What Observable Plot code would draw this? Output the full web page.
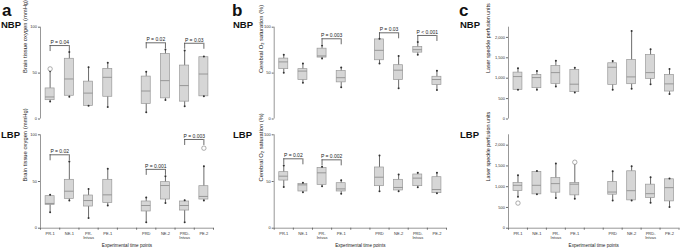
<!DOCTYPE html>
<html><head><meta charset="utf-8">
<script src="https://cdn.jsdelivr.net/npm/d3@7"></script>
<script src="https://cdn.jsdelivr.net/npm/@observablehq/plot@0.6"></script>
<style>
body{margin:0;background:#fff;}
#fig{position:relative;width:685px;height:250px;overflow:hidden;font-family:"Liberation Sans",Arial,sans-serif;}
#fig svg{position:absolute;}
</style></head><body><div id="fig"></div>
<script>
// categories and tick labels
const categories = ["PR-1","NE-1","PR-Intvas","PE-1","PRD","NE-2","PRD-Intvas","PE-2"];
const tickLabels = ["PR-1","NE-1","PR-\nIntvas","PE-1","PRD","NE-2","PRD-\nIntvas","PE-2"];
const xTitle = "Experimental time points";
const panelLetters = ["a","b","c"];
const rowLabels = ["NBP","LBP"];

// [min, q1, median, q3, max] per category
const aNBP = [[19,20.5,24,33.3,52],[24.2,25.3,43.6,65.6,72.9],[14.3,14.3,28.2,40.7,56.4],[13.2,24.2,45.4,54.6,61.2],
              [7.3,16.4,30.5,46.2,51.6],[20.7,22.5,41.8,70.9,75.6],[13.8,18.9,36.4,58.2,74.5],[24.7,24.7,49,67.3,68]];
const aLBP = [[17,25,26.5,34.3,35.7],[29.6,31.4,39.6,51.8,71.4],[11,23.2,29.6,35,42],[24.3,27,35.7,51.8,63.6],
              [6.4,17.9,24.3,28.6,33],[27,30.7,45.7,49.3,55.7],[6.4,18.9,24.3,28.6,30],[29.6,30.7,34,45,66.4]];
const bNBP = [[50.4,54.3,62.2,65.8,70],[39.6,42.4,52.2,54.3,60.4],[65.8,66.9,68.7,76.6,80.2],[34.5,39.9,45,52.2,56],
              [60.4,64,74.8,86.7,87.4],[33.5,42.4,53.2,58.6,68.7],[70,72.3,75.5,78.4,83.8],[31.7,37,43,46,52.5]];
const bLBP = [[44,51,55.7,60,67],[38.6,39.3,46.4,47.5,48.6],[45,46.4,59.3,64.6,65.7],[36.8,39.3,42.1,48.2,51.4],
              [39.6,45,54.6,65,77.9],[39.6,40.4,43.6,51.8,57.5],[43.9,45,53.6,57.5,59.3],[37.5,37.5,41.4,54.6,59.3]];
const cNBP = [[715,715,1040,1137,1244],[715,756,1015,1080,1178],[796,861,1137,1300,1430],[650,658,853,1202,1259],
              [715,837,1268,1366,1422],[739,853,1032,1446,2154],[853,983,1137,1568,1707],[610,673,861,1080,1227]];
const cLBP = [[760,895,1033,1088,1274],[815,815,1033,1354,1375],[726,856,1074,1209,1557],[711,791,1060,1088,1560],
              [670,807,871,1113,1371],[670,670,904,1371,1492],[614,726,832,1049,1226],[508,646,977,1178,1195]];

// outliers [category, value]
const aNBPout = [["PR-1",54.6]];
const aLBPout = [["PE-2",85.7]];
const bNBPout = [];
const bLBPout = [];
const cNBPout = [];
const cLBPout = [["PR-1",605],["PE-1",1590]];

// significance brackets [from, to, height, label]
const aNBPp = [["PR-1","NE-1",80,"P = 0.04"],["PRD","NE-2",83,"P = 0.02"],["PRD-Intvas","PE-2",82.5,"P = 0.03"]];
const aLBPp = [["PR-1","NE-1",78.6,"P = 0.02"],["PRD","NE-2",63,"P = 0.001"],["PRD-Intvas","PE-2",95,"P = 0.003"]];
const bNBPp = [["PR-Intvas","PE-1",87.4,"P = 0.003"],["PRD","NE-2",93.9,"P = 0.03"],["PRD-Intvas","PE-2",91,"P < 0.001"]];
const bLBPp = [["PR-1","NE-1",74.3,"P = 0.02"],["PR-Intvas","PE-1",73.2,"P = 0.002"]];
const cNBPp = [];
const cLBPp = [];

const yTitles = ["Brain tissue oxygen (mmHg)","Cerebral O\u2082 saturation (%)","Laser speckle perfusion units"];
const yTicksAB = [0,50,100];
const yTicksC = [0,500,1000,1500,2000];

// ---------- layout ----------
const slot = i => (i < 4 ? i + 1 : i + 2);
const slotOf = c => slot(categories.indexOf(c));
const FONT = '"Liberation Sans", Arial, sans-serif';

function panel(o) {
  const plotH = o.height - o.mT - o.mB;
  const leg = 6 * o.yMax / plotH;
  const hw = 0.235;
  const marks = [
    Plot.ruleX([0.5], {y1: 0, y2: o.yMax, stroke: "#6b6b6b", strokeWidth: 0.7}),
    Plot.axisY({ticks: o.yTicks, tickSize: 2, tickPadding: 1.5, fontSize: 4, label: null, stroke: "#6b6b6b", fill: "#333"}),
    Plot.text([o.yTitle], {frameAnchor: "left", rotate: -90, dx: -o.yTitleOff, fontSize: o.yTitleSize, fill: "#222"}),
    // whiskers
    Plot.ruleX(o.stats, {x: (d, i) => slot(i), y1: d => d[0], y2: d => d[4], stroke: "#454545", strokeWidth: 0.8}),
    // boxes
    Plot.rect(o.stats, {x1: (d, i) => slot(i) - hw, x2: (d, i) => slot(i) + hw, y1: d => d[1], y2: d => d[3],
      fill: "#d6d6d6", stroke: "#999", strokeWidth: 0.7}),
    // medians
    Plot.ruleY(o.stats, {x1: (d, i) => slot(i) - hw, x2: (d, i) => slot(i) + hw, y: d => d[2], stroke: "#888", strokeWidth: 0.8}),
    // whisker caps
    Plot.dot(o.stats, {x: (d, i) => slot(i), y: d => d[0], r: 1, fill: "#333", stroke: null}),
    Plot.dot(o.stats, {x: (d, i) => slot(i), y: d => d[4], r: 1, fill: "#333", stroke: null}),
    // outliers
    Plot.dot(o.out, {x: d => slotOf(d[0]), y: d => d[1], r: 2.2, fill: "white", stroke: "#8a8a8a", strokeWidth: 0.7}),
    // brackets
    Plot.ruleY(o.br, {x1: d => slotOf(d[0]), x2: d => slotOf(d[1]), y: d => d[2], stroke: "#454545", strokeWidth: 0.8}),
    Plot.ruleX(o.br, {x: d => slotOf(d[0]), y1: d => d[2] - leg, y2: d => d[2], stroke: "#454545", strokeWidth: 0.8}),
    Plot.ruleX(o.br, {x: d => slotOf(d[1]), y1: d => d[2] - leg, y2: d => d[2], stroke: "#454545", strokeWidth: 0.8}),
    Plot.text(o.br, {x: d => (slotOf(d[0]) + slotOf(d[1])) / 2, y: d => d[2], dy: -3.2, text: d => d[3], fontSize: 5, fill: "#222"})
  ];
  if (o.showX) {
    marks.push(
      Plot.ruleY([0], {x1: 0.5, x2: 9.5, stroke: "#6b6b6b", strokeWidth: 0.7}),
      Plot.axisX({ticks: categories.map((c, i) => slot(i)), tickSize: 0, tickPadding: 3.5, fontSize: 4, lineAnchor: "top",
        tickFormat: v => tickLabels[categories.findIndex((c, i) => slot(i) === v)], fill: "#333", label: null}),
      Plot.axisX({ticks: d3.range(0.5, 10, 1), tickSize: 2, tickFormat: () => "", stroke: "#6b6b6b", label: null}),
      Plot.text([xTitle], {frameAnchor: "bottom", dy: 19, fontSize: 4.6, fill: "#222"})
    );
  }
  const svg = Plot.plot({
    width: o.width, height: o.height,
    marginLeft: o.mL, marginRight: o.mR, marginTop: o.mT, marginBottom: o.mB,
    style: {fontFamily: FONT, background: "transparent", overflow: "visible"},
    x: {type: "linear", domain: [0.5, 9.5], axis: o.showX ? undefined : null},
    y: {domain: [0, o.yMax]},
    marks
  });
  svg.style.left = o.left + "px";
  svg.style.top = o.top + "px";
  return svg;
}

const cols = [
  {left: 0, width: 228, mL: 40, mR: 15, yMax: 100, yTicks: yTicksAB, yTitleOff: 15, yTitleSize: 5.8, rows: [[aNBP, aNBPout, aNBPp], [aLBP, aLBPout, aLBPp]]},
  {left: 228, width: 228, mL: 45.7, mR: 10, yMax: 100, yTicks: yTicksAB, yTitleOff: 13.5, yTitleSize: 5.8, rows: [[bNBP, bNBPout, bNBPp], [bLBP, bLBPout, bLBPp]]},
  {left: 456, width: 229, mL: 52, mR: 6.5, yMax: 2250, yTicks: yTicksC, yTitleOff: 20, yTitleSize: 5.4, rows: [[cNBP, cNBPout, cNBPp], [cLBP, cLBPout, cLBPp]]}
];
const rows = [
  {top: 0, height: 122, mT: 26.7, mB: 3.5, showX: false},
  {top: 125, height: 125, mT: 9.3, mB: 22.3, showX: true}
];

const fig = document.getElementById("fig");
cols.forEach((c, ci) => {
  rows.forEach((r, ri) => {
    const [stats, out, br] = c.rows[ri];
    fig.appendChild(panel({
      left: c.left, width: c.width, mL: c.mL, mR: c.mR, yMax: c.yMax, yTicks: c.yTicks,
      yTitle: yTitles[ci], yTitleOff: c.yTitleOff, yTitleSize: c.yTitleSize,
      top: r.top, height: r.height, mT: r.mT, mB: r.mB, showX: r.showX,
      stats, out, br
    }));
  });
});

// panel letters and row labels
const ns = "http://www.w3.org/2000/svg";
const ov = document.createElementNS(ns, "svg");
ov.setAttribute("width", 685); ov.setAttribute("height", 250);
ov.style.left = "0px"; ov.style.top = "0px";
ov.style.fontFamily = FONT;
const letterX = [2, 232, 459], letterY = [15.5, 15.5, 15.5];
const rowX = [1, 233, 460], rowY = [28, 138];
function addText(txt, x, y, size, weight) {
  const t = document.createElementNS(ns, "text");
  t.setAttribute("x", x); t.setAttribute("y", y);
  t.setAttribute("font-size", size); t.setAttribute("font-weight", weight);
  t.setAttribute("fill", "#111");
  t.textContent = txt; ov.appendChild(t);
}
panelLetters.forEach((l, i) => {
  addText(l, letterX[i], letterY[i], 17, "bold");
  rowLabels.forEach((r, j) => addText(r, rowX[i], rowY[j], 9.5, "bold"));
});
fig.appendChild(ov);
</script></body></html>
